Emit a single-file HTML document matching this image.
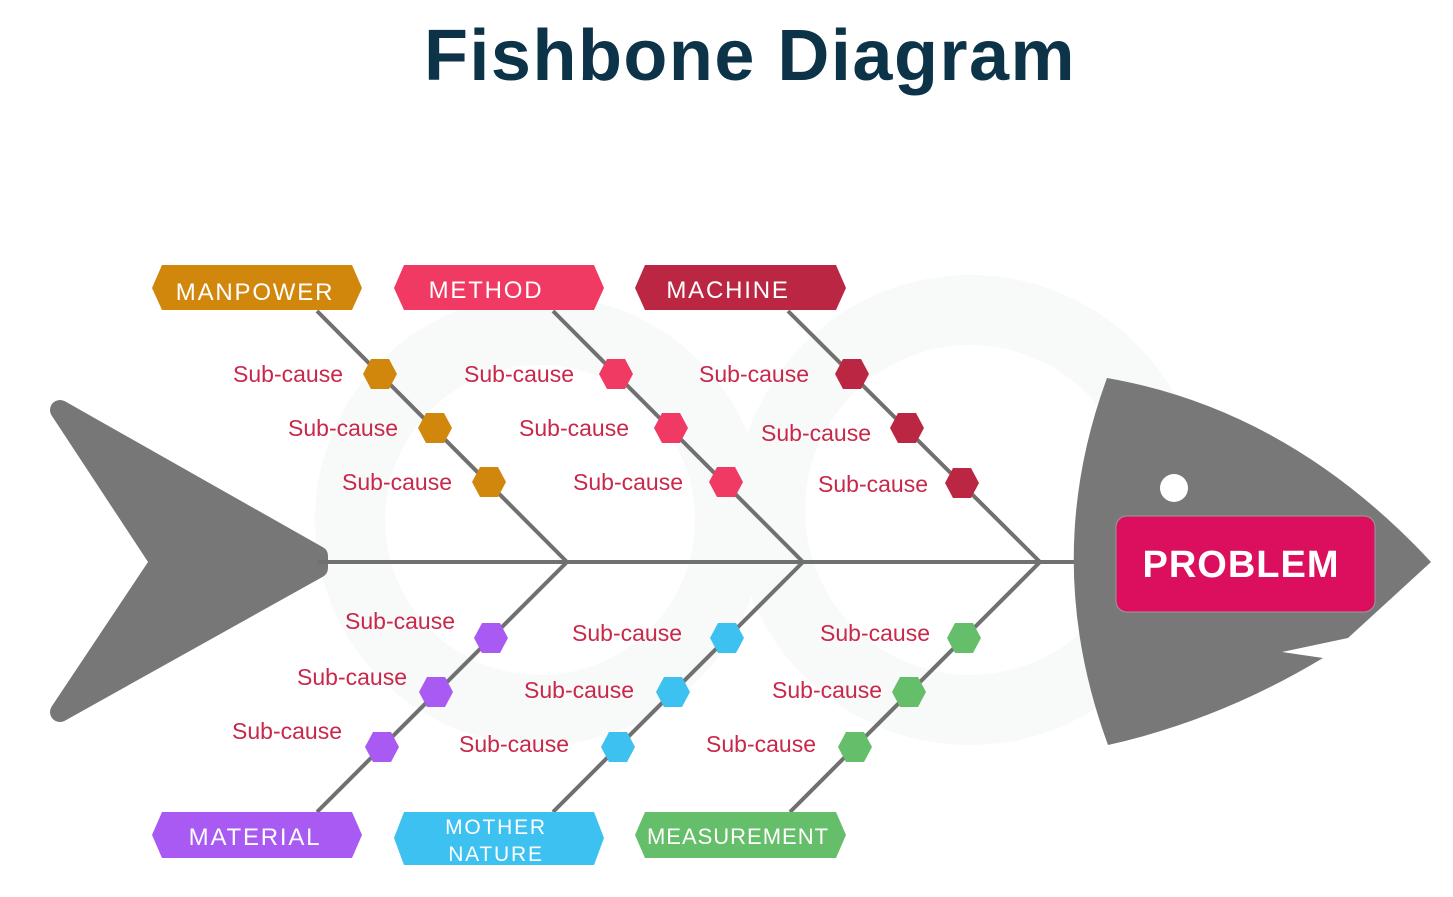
<!DOCTYPE html>
<html><head><meta charset="utf-8"><style>
html,body{margin:0;padding:0;background:#fff;}
svg{display:block;}
text{font-family:"Liberation Sans",sans-serif;}
</style></head><body>
<svg width="1453" height="897" viewBox="0 0 1453 897" xmlns="http://www.w3.org/2000/svg">
<rect width="1453" height="897" fill="#fff"/>
<!-- faint watermark -->
<g fill="none" stroke="#f8f9f9" stroke-width="70">
<circle cx="540" cy="520" r="190"/>
<circle cx="970" cy="510" r="200"/>
</g>
<text x="750" y="80" text-anchor="middle" font-size="72" font-weight="bold" fill="#0d3349" letter-spacing="1.5">Fishbone Diagram</text>

<!-- tail -->
<polygon points="60,410 318,556 318,568 60,712 160,562" fill="#777" stroke="#777" stroke-width="20" stroke-linejoin="round"/>
<!-- spine & bones -->
<g stroke="#707070" stroke-width="4" fill="none">
<line x1="318" y1="562" x2="1080" y2="562"/>
<line x1="317" y1="311" x2="567" y2="562"/>
<line x1="553" y1="311" x2="803" y2="562"/>
<line x1="788" y1="311" x2="1040" y2="562"/>
<line x1="317" y1="812" x2="567" y2="562"/>
<line x1="553" y1="812" x2="803" y2="562"/>
<line x1="790" y1="812" x2="1040" y2="562"/>
</g>
<!-- head -->
<path d="M1107,378 Q1290,410 1431,562 L1348,638 L1282,652 L1323,658 Q1220,720 1108,745 Q1040,560 1107,378 Z" fill="#787878"/>
<circle cx="1174" cy="488" r="14" fill="#fff"/>
<rect x="1116" y="516" width="259" height="96" rx="11" fill="#dc0f5e" stroke="#9a9a9a" stroke-width="1"/>
<text x="1241" y="577" text-anchor="middle" font-size="38" font-weight="bold" fill="#fff" letter-spacing="1">PROBLEM</text>

<!-- category labels -->
<g font-size="24" fill="#fff" text-anchor="middle" letter-spacing="1.8">
<polygon points="152,288 162,265 352,265 362,288 352,310 162,310" fill="#d1870b"/>
<text x="255" y="300">MANPOWER</text>
<polygon points="394,288 404,265 594,265 604,288 594,310 404,310" fill="#f13a63"/>
<text x="486" y="298">METHOD</text>
<polygon points="635,288 645,265 836,265 846,288 836,310 645,310" fill="#bb2742"/>
<text x="728" y="298">MACHINE</text>
<polygon points="152,835 162,812 352,812 362,835 352,858 162,858" fill="#a85af2"/>
<text x="255" y="845">MATERIAL</text>
<polygon points="394,838 404,812 594,812 604,838 594,865 404,865" fill="#3cc1f0"/>
<text x="496" y="834" font-size="21">MOTHER</text>
<text x="496" y="861" font-size="21">NATURE</text>
<polygon points="635,835 645,812 836,812 846,835 836,858 645,858" fill="#65be6a"/>
<text x="738" y="844" font-size="22" letter-spacing="1">MEASUREMENT</text>
</g>

<!-- hexagons -->
<g>
<g fill="#d1870b">
<polygon points="363,374 371,359 389,359 397,374 389,389 371,389"/>
<polygon points="418,428 426,413 444,413 452,428 444,443 426,443"/>
<polygon points="472,482 480,467 498,467 506,482 498,497 480,497"/>
</g>
<g fill="#f13a63">
<polygon points="599,374 607,359 625,359 633,374 625,389 607,389"/>
<polygon points="654,428 662,413 680,413 688,428 680,443 662,443"/>
<polygon points="709,482 717,467 735,467 743,482 735,497 717,497"/>
</g>
<g fill="#bb2742">
<polygon points="835,374 843,359 861,359 869,374 861,389 843,389"/>
<polygon points="890,428 898,413 916,413 924,428 916,443 898,443"/>
<polygon points="945,483 953,468 971,468 979,483 971,498 953,498"/>
</g>
<g fill="#a85af2">
<polygon points="474,638 482,623 500,623 508,638 500,653 482,653"/>
<polygon points="419,692 427,677 445,677 453,692 445,707 427,707"/>
<polygon points="365,747 373,732 391,732 399,747 391,762 373,762"/>
</g>
<g fill="#3cc1f0">
<polygon points="710,638 718,623 736,623 744,638 736,653 718,653"/>
<polygon points="656,692 664,677 682,677 690,692 682,707 664,707"/>
<polygon points="601,747 609,732 627,732 635,747 627,762 609,762"/>
</g>
<g fill="#65be6a">
<polygon points="947,638 955,623 973,623 981,638 973,653 955,653"/>
<polygon points="892,692 900,677 918,677 926,692 918,707 900,707"/>
<polygon points="838,747 846,732 864,732 872,747 864,762 846,762"/>
</g>
</g>

<!-- sub-cause texts -->
<g font-size="23" fill="#c8284a" text-anchor="end">
<text x="343" y="382">Sub-cause</text>
<text x="398" y="436">Sub-cause</text>
<text x="452" y="490">Sub-cause</text>
<text x="574" y="382">Sub-cause</text>
<text x="629" y="436">Sub-cause</text>
<text x="683" y="490">Sub-cause</text>
<text x="809" y="382">Sub-cause</text>
<text x="871" y="441">Sub-cause</text>
<text x="928" y="492">Sub-cause</text>
<text x="455" y="629">Sub-cause</text>
<text x="407" y="685">Sub-cause</text>
<text x="342" y="739">Sub-cause</text>
<text x="682" y="641">Sub-cause</text>
<text x="634" y="698">Sub-cause</text>
<text x="569" y="752">Sub-cause</text>
<text x="930" y="641">Sub-cause</text>
<text x="882" y="698">Sub-cause</text>
<text x="816" y="752">Sub-cause</text>
</g>
</svg>
</body></html>
